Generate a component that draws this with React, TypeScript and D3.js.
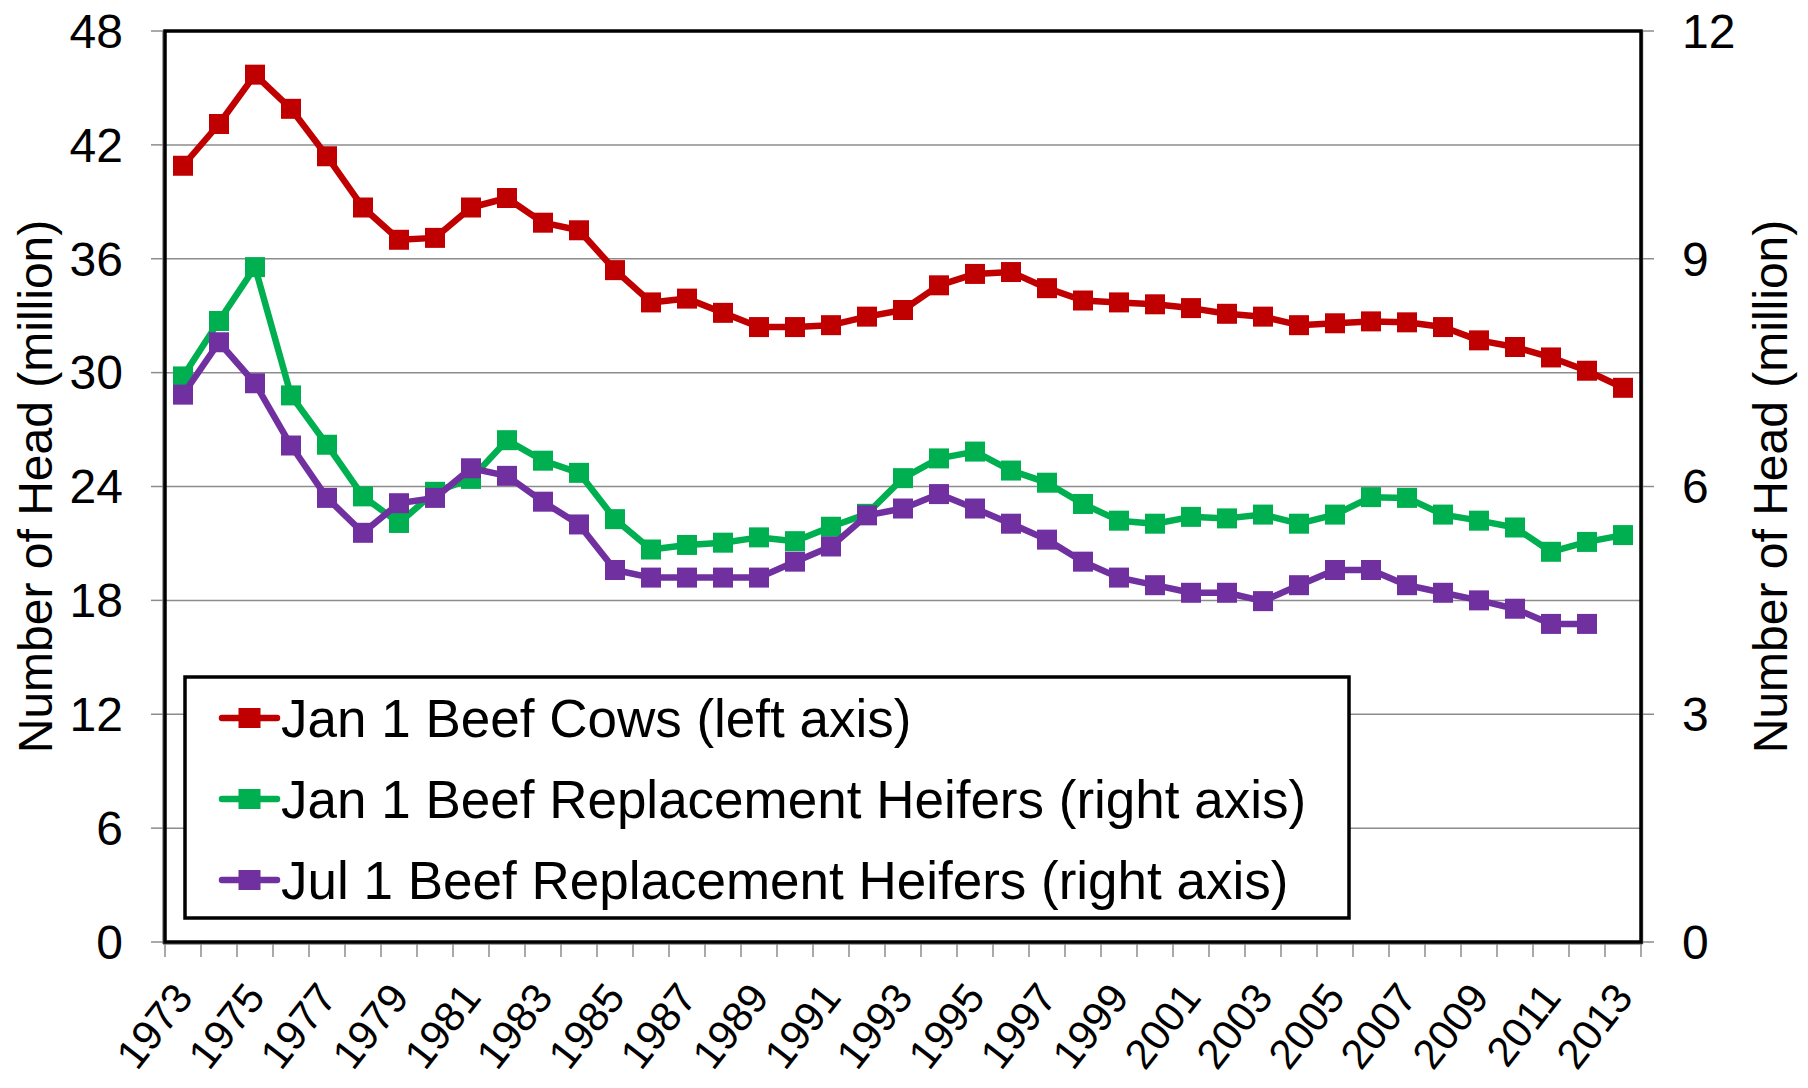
import React from 'react';
import * as d3 from 'd3';

// Years on the x axis (one category per year)
const years = [
  1973, 1974, 1975, 1976, 1977, 1978, 1979, 1980, 1981, 1982,
  1983, 1984, 1985, 1986, 1987, 1988, 1989, 1990, 1991, 1992,
  1993, 1994, 1995, 1996, 1997, 1998, 1999, 2000, 2001, 2002,
  2003, 2004, 2005, 2006, 2007, 2008, 2009, 2010, 2011, 2012, 2013,
];

// Jan 1 beef cows, million head (left axis)
const beefCows = [
  40.9, 43.1, 45.7, 43.9, 41.4, 38.7, 37.0, 37.1, 38.7, 39.2,
  37.9, 37.5, 35.4, 33.7, 33.9, 33.15, 32.4, 32.4, 32.5, 32.95,
  33.3, 34.6, 35.2, 35.3, 34.45, 33.8, 33.7, 33.6, 33.4, 33.1,
  32.95, 32.5, 32.6, 32.7, 32.65, 32.4, 31.7, 31.35, 30.8, 30.1, 29.2,
];

// Jan 1 beef replacement heifers, million head (right axis)
const janHeifers = [
  7.45, 8.18, 8.89, 7.2, 6.55, 5.87, 5.52, 5.93, 6.1, 6.61,
  6.34, 6.18, 5.57, 5.17, 5.23, 5.26, 5.33, 5.28, 5.47, 5.64,
  6.11, 6.37, 6.46, 6.21, 6.05, 5.77, 5.55, 5.51, 5.6, 5.58,
  5.63, 5.51, 5.63, 5.86, 5.85, 5.63, 5.55, 5.46, 5.14, 5.27, 5.36,
];

// Jul 1 beef replacement heifers, million head (right axis), no 2013 value
const julHeifers = [
  7.21, 7.9, 7.36, 6.54, 5.85, 5.39, 5.78, 5.85, 6.24, 6.14,
  5.8, 5.5, 4.9, 4.8, 4.8, 4.8, 4.8, 5.01, 5.21, 5.62,
  5.71, 5.9, 5.71, 5.51, 5.3, 5.01, 4.8, 4.7, 4.6, 4.6,
  4.49, 4.7, 4.9, 4.9, 4.7, 4.6, 4.5, 4.39, 4.19, 4.19, null,
];

const leftTicks = [0, 6, 12, 18, 24, 30, 36, 42, 48];
const rightTicks = [0, 3, 6, 9, 12];

const seriesNames = [
  'Jan 1 Beef Cows (left axis)',
  'Jan 1 Beef Replacement Heifers (right axis)',
  'Jul 1 Beef Replacement Heifers (right axis)',
];
const colors = ['#C00000', '#00B050', '#7030A0'];

const W = 1808;
const H = 1088;
const plot = { left: 165, right: 1641, top: 31, bottom: 942 };
const font = '"Liberation Sans", Arial, sans-serif';

const App = () => {
  const x = d3.scaleBand<number>().domain(years).range([plot.left, plot.right]).padding(0);
  const yLeft = d3.scaleLinear().domain([0, 48]).range([plot.bottom, plot.top]);
  const yRight = d3.scaleLinear().domain([0, 12]).range([plot.bottom, plot.top]);
  const cx = (yr: number) => (x(yr) as number) + x.bandwidth() / 2;

  const series = [
    { values: beefCows, y: yLeft },
    { values: janHeifers, y: yRight },
    { values: julHeifers, y: yRight },
  ];

  // tick positions on band boundaries
  const xTicks = years.map(yr => x(yr) as number).concat([plot.right]);
  const markerSize = 20;

  return (
    <svg width={W} height={H} style={{ position: 'absolute', left: 0, top: 0, background: '#fff' }} fontFamily={font}>
      {/* grid lines */}
      {leftTicks.slice(1, -1).map(t => (
        <line key={'g' + t} x1={plot.left} x2={plot.right} y1={yLeft(t)} y2={yLeft(t)} stroke="#8c8c8c" strokeWidth={1.5} />
      ))}

      {/* axis ticks */}
      {leftTicks.map(t => (
        <line key={'lt' + t} x1={plot.left - 14} x2={plot.left} y1={yLeft(t)} y2={yLeft(t)} stroke="#8c8c8c" strokeWidth={1.5} />
      ))}
      {rightTicks.map(t => (
        <line key={'rt' + t} x1={plot.right} x2={plot.right + 13} y1={yRight(t)} y2={yRight(t)} stroke="#8c8c8c" strokeWidth={1.5} />
      ))}
      {xTicks.map((t, i) => (
        <line key={'xt' + i} x1={t} x2={t} y1={plot.bottom} y2={plot.bottom + 15} stroke="#8c8c8c" strokeWidth={1.5} />
      ))}

      {/* grey axis lines and black plot border */}
      <line x1={plot.left - 2} x2={plot.left - 2} y1={plot.top} y2={plot.bottom + 2} stroke="#808080" strokeWidth={1.5} />
      <line x1={plot.right + 1.5} x2={plot.right + 1.5} y1={plot.top} y2={plot.bottom + 2} stroke="#808080" strokeWidth={1.5} />
      <line x1={plot.left - 2} x2={plot.right + 1.5} y1={plot.bottom + 2} y2={plot.bottom + 2} stroke="#808080" strokeWidth={1.5} />
      <rect x={plot.left} y={plot.top} width={plot.right - plot.left} height={plot.bottom - plot.top} fill="none" stroke="#000" strokeWidth={3.5} />

      {/* tick labels */}
      {leftTicks.map(t => (
        <text key={'ll' + t} x={123} y={yLeft(t)} dy="0.35em" textAnchor="end" fontSize={48}>{t}</text>
      ))}
      {rightTicks.map(t => (
        <text key={'rl' + t} x={1682} y={yRight(t)} dy="0.35em" textAnchor="start" fontSize={48}>{t}</text>
      ))}
      {years.filter((yr, i) => i % 2 === 0).map(yr => (
        <text key={'yl' + yr} transform={`translate(${cx(yr)},${plot.bottom + 47}) rotate(-52)`} dy="0.35em" textAnchor="end" fontSize={42}>{yr}</text>
      ))}

      {/* axis titles */}
      <text transform={`translate(52,${(plot.top + plot.bottom) / 2}) rotate(-90)`} textAnchor="middle" fontSize={48}>Number of Head (million)</text>
      <text transform={`translate(1787,${(plot.top + plot.bottom) / 2}) rotate(-90)`} textAnchor="middle" fontSize={48}>Number of Head (million)</text>

      {/* series */}
      {series.map((s, si) => {
        const pts = years.map((yr, i) => ({ yr, v: s.values[i] })).filter(d => d.v != null) as { yr: number; v: number }[];
        const line = d3.line<{ yr: number; v: number }>().x(d => cx(d.yr)).y(d => s.y(d.v));
        return (
          <g key={'s' + si}>
            <path d={line(pts) || ''} fill="none" stroke={colors[si]} strokeWidth={6.5} strokeLinejoin="round" />
            {pts.map(d => (
              <rect key={d.yr} x={cx(d.yr) - markerSize / 2} y={s.y(d.v) - markerSize / 2} width={markerSize} height={markerSize} fill={colors[si]} />
            ))}
          </g>
        );
      })}

      {/* legend */}
      <rect x={185} y={677} width={1164} height={241} fill="#fff" stroke="#000" strokeWidth={3.5} />
      {seriesNames.map((name, i) => {
        const ly = 718 + i * 81;
        return (
          <g key={'lg' + i}>
            <line x1={222} x2={277} y1={ly} y2={ly} stroke={colors[i]} strokeWidth={6.5} strokeLinecap="round" />
            <rect x={249.5 - 11} y={ly - 10} width={22} height={20} fill={colors[i]} />
            <text x={281} y={ly} dy="0.35em" fontSize={53}>{name}</text>
          </g>
        );
      })}
    </svg>
  );
};

export default App;
